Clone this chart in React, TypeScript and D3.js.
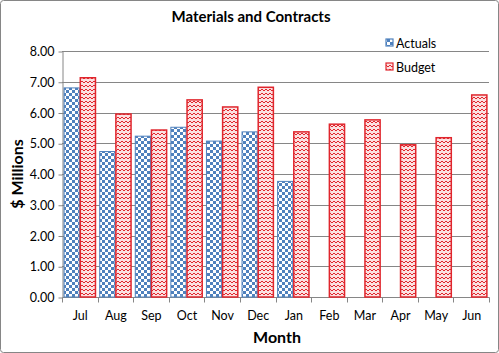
import React, { useEffect, useRef } from 'react';
import * as d3 from 'd3';

const months = ['Jul', 'Aug', 'Sep', 'Oct', 'Nov', 'Dec', 'Jan', 'Feb', 'Mar', 'Apr', 'May', 'Jun'];
const actuals: (number | null)[] = [6.8, 4.73, 5.23, 5.52, 5.07, 5.37, 3.76, null, null, null, null, null];
const budget = [7.13, 5.95, 5.43, 6.41, 6.18, 6.82, 5.37, 5.62, 5.76, 4.95, 5.18, 6.57];
const yTicks = [0, 1, 2, 3, 4, 5, 6, 7, 8];
const seriesNames = ['Actuals', 'Budget'];

const W = 499;
const H = 353;
const FONT = 'Lato, "Open Sans", sans-serif';

const App: React.FC = () => {
  const svgRef = useRef<SVGSVGElement>(null);

  useEffect(() => {
    if (!svgRef.current) return;
    const svg = d3.select(svgRef.current);
    svg.selectAll('*').remove();

    const left = 62, right = 489, top = 51, bottom = 297;

    const x = d3.scaleBand<string>().domain(months).range([left, right]).paddingInner(0).paddingOuter(0);
    const inner = d3.scaleBand<string>().domain(seriesNames).range([0, x.bandwidth()]).paddingInner(0).paddingOuter(0.1);
    const y = d3.scaleLinear().domain([0, 8]).range([bottom, top]);

    // patterns
    const defs = svg.append('defs');
    const chk = defs.append('pattern').attr('id', 'chk').attr('width', 6).attr('height', 6)
      .attr('patternUnits', 'userSpaceOnUse');
    chk.append('rect').attr('width', 6).attr('height', 6).attr('fill', '#fff');
    chk.append('rect').attr('width', 3).attr('height', 3).attr('fill', '#4f81bd');
    chk.append('rect').attr('x', 3).attr('y', 3).attr('width', 3).attr('height', 3).attr('fill', '#4f81bd');

    const zig = defs.append('pattern').attr('id', 'zig').attr('width', 4).attr('height', 4)
      .attr('patternUnits', 'userSpaceOnUse');
    zig.append('rect').attr('width', 4).attr('height', 4).attr('fill', '#fbe1e1');
    zig.append('path').attr('d', 'M0,3 L2,1 L4,3').attr('fill', 'none').attr('stroke', '#e0262d').attr('stroke-width', 1);

    // outer border
    svg.append('rect').attr('x', 0.5).attr('y', 0.5).attr('width', W - 1).attr('height', H - 1)
      .attr('rx', 3).attr('fill', '#fff').attr('stroke', '#868686');

    // gridlines
    svg.append('g').selectAll('line').data(yTicks.filter(t => t > 0)).enter().append('line')
      .attr('x1', left).attr('x2', right)
      .attr('y1', d => Math.round(y(d)) + 0.5).attr('y2', d => Math.round(y(d)) + 0.5)
      .attr('stroke', '#868686').attr('stroke-width', 1);

    // y axis
    const yAxis = d3.axisLeft(y).tickValues(yTicks).tickFormat(d3.format('.2f')).tickSize(4).tickSizeOuter(0);
    const gy = svg.append('g').attr('transform', `translate(${left + 0.5},0.5)`).call(yAxis);
    gy.selectAll('path,line').attr('stroke', '#868686');
    gy.selectAll('text').attr('font-family', FONT).attr('font-size', 12.5).attr('fill', '#000').attr('x', -8);

    // x axis
    const gx = svg.append('g').attr('transform', `translate(0.5,${bottom + 0.5})`);
    gx.append('line').attr('x1', left).attr('x2', right).attr('stroke', '#868686');
    const bounds = months.map(m => x(m)!).concat([right]);
    gx.selectAll('line.tk').data(bounds).enter().append('line').attr('class', 'tk')
      .attr('x1', d => Math.round(d)).attr('x2', d => Math.round(d)).attr('y1', 0).attr('y2', 5)
      .attr('stroke', '#868686');
    gx.selectAll('text').data(months).enter().append('text')
      .attr('x', d => x(d)! + x.bandwidth() / 2).attr('y', 22)
      .attr('text-anchor', 'middle').attr('font-family', FONT).attr('font-size', 12.5).attr('fill', '#000')
      .text(d => d);

    // bars
    const bars = svg.append('g');
    bars.selectAll('rect.a').data(months.map((m, i) => ({ m, v: actuals[i] })).filter(d => d.v != null))
      .enter().append('rect').attr('class', 'a')
      .attr('x', d => x(d.m)! + inner('Actuals')! + 0.5).attr('width', inner.bandwidth() - 1)
      .attr('y', d => y(d.v as number)).attr('height', d => bottom - y(d.v as number))
      .attr('fill', 'url(#chk)').attr('stroke', '#4f81bd').attr('stroke-width', 1);
    bars.selectAll('rect.b').data(months.map((m, i) => ({ m, v: budget[i] })))
      .enter().append('rect').attr('class', 'b')
      .attr('x', d => x(d.m)! + inner('Budget')! + 0.5).attr('width', inner.bandwidth() - 1)
      .attr('y', d => y(d.v)).attr('height', d => bottom - y(d.v))
      .attr('fill', 'url(#zig)').attr('stroke', '#e0262d').attr('stroke-width', 1.5);

    // legend
    const lg = svg.append('g');
    seriesNames.forEach((s, i) => {
      const ly = 43 + i * 24;
      lg.append('rect').attr('x', 386).attr('y', ly - 4).attr('width', 7).attr('height', 7)
        .attr('fill', i === 0 ? 'url(#chk)' : 'url(#zig)')
        .attr('stroke', i === 0 ? '#4f81bd' : '#e0262d').attr('stroke-width', 1.2);
      lg.append('text').attr('x', 396).attr('y', ly + 4.5).attr('font-family', FONT).attr('font-size', 12.5)
        .attr('fill', '#000').text(s);
    });

    // titles
    svg.append('text').attr('x', 251).attr('y', 22).attr('text-anchor', 'middle')
      .attr('font-family', FONT).attr('font-weight', 'bold').attr('font-size', 15).text('Materials and Contracts');
    svg.append('text').attr('x', 277).attr('y', 343).attr('text-anchor', 'middle')
      .attr('font-family', FONT).attr('font-weight', 'bold').attr('font-size', 16).text('Month');
    svg.append('text').attr('transform', `translate(23,${(top + bottom) / 2}) rotate(-90)`).attr('text-anchor', 'middle')
      .attr('font-family', FONT).attr('font-weight', 'bold').attr('font-size', 16).text('$ Millions');
  }, []);

  return (
    <svg ref={svgRef} width={W} height={H} viewBox={`0 0 ${W} ${H}`}
      style={{ position: 'absolute', left: 0, top: 0, display: 'block' }} />
  );
};

export default App;
